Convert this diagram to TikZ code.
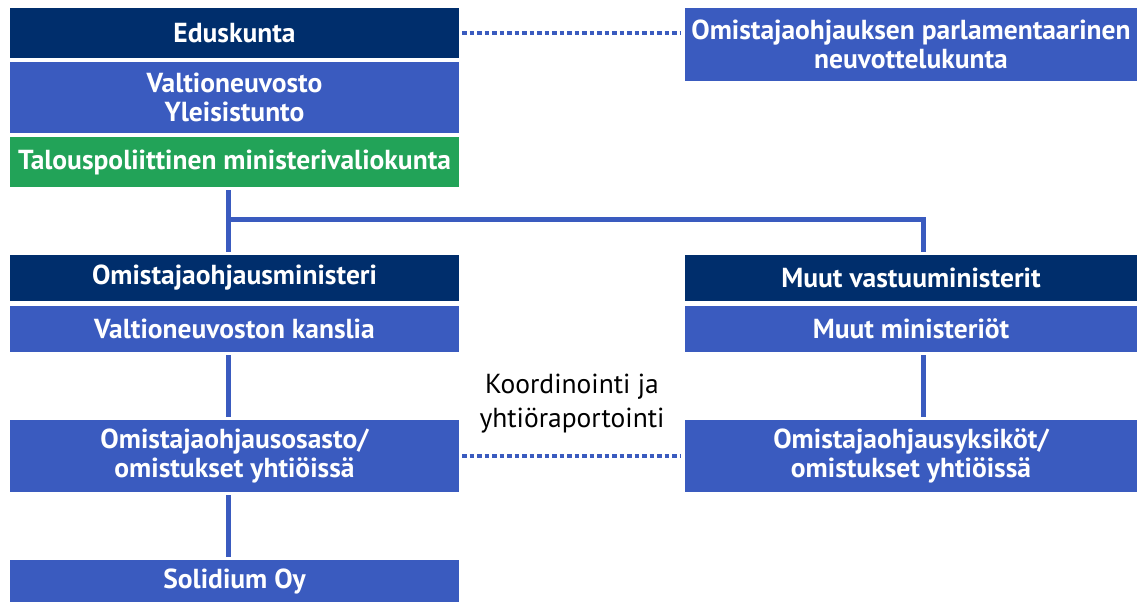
\documentclass[tikz,border=0pt]{standalone}
\usepackage{fontspec}
\setmainfont{PT Sans}
\usetikzlibrary{positioning}
\definecolor{navyblue}{RGB}{0,46,108}
\definecolor{midblue}{RGB}{58,91,191}
\definecolor{boxgreen}{RGB}{34,163,88}

\begin{document}
\begin{tikzpicture}[x=1pt, y=-1pt]
    \tikzstyle{box} = [rectangle, fill=midblue, text=white, font=\fontsize{27.5}{29}\selectfont\bfseries, align=center, minimum width=449pt, inner sep=0pt]
    \tikzstyle{headbox} = [box, fill=navyblue]
    \tikzstyle{greenbox} = [box, fill=boxgreen]
    \tikzstyle{link} = [midblue, line width=5pt, shorten <=3pt, shorten >=3pt]
    \tikzstyle{dotlink} = [midblue, line width=4.5pt, dash pattern=on 4.5pt off 3pt, shorten <=3pt, shorten >=5pt]

    \useasboundingbox (0,0) rectangle (1137,602);

    % left column
    \node (eduskunta) [headbox, minimum height=50pt] at (234.5,33) {Eduskunta};
    \node (valtioneuvosto) [box, minimum height=71pt] at (234.5,97.5) {Valtioneuvosto\\Yleisistunto};
    \node (talous) [greenbox, minimum height=50pt] at (234.5,162) {Talouspoliittinen ministerivaliokunta};
    \node (ministeri) [headbox, minimum height=46pt] at (234.5,278) {Omistajaohjausministeri};
    \node (kanslia) [box, minimum height=46pt] at (234.5,329) {Valtioneuvoston kanslia};
    \node (osasto) [box, minimum height=72pt] at (234.5,456) {Omistajaohjausosasto/\\omistukset yhtiöissä};
    \node (solidium) [box, minimum height=42pt] at (234.5,581) {Solidium Oy};

    % right column
    \node (neuvottelu) [box, minimum width=452pt, minimum height=73pt] at (911,44.5) {Omistajaohjauksen parlamentaarinen\\neuvottelukunta};
    \node (vastuu) [headbox, minimum width=452pt, minimum height=46pt] at (911,278) {Muut vastuuministerit};
    \node (ministeriot) [box, minimum width=452pt, minimum height=46pt] at (911,329) {Muut ministeriöt};
    \node (yksikot) [box, minimum width=452pt, minimum height=72pt] at (911,456) {Omistajaohjausyksiköt/\\omistukset yhtiöissä};

    \node (koord) [font=\fontsize{27.5}{34}\selectfont, align=center] at (572,404) {Koordinointi ja\\yhtiöraportointi};

    \coordinate (lx) at (228,0);
    \coordinate (rx) at (923.5,0);
    \coordinate (branch) at (228,219.5);

    % Lines
    \draw [link] (talous.south -| lx) -- (ministeri.north -| lx);
    \draw [link, shorten <=0pt] (branch) -| (vastuu.north -| rx);
    \draw [link] (kanslia.south -| lx) -- (osasto.north -| lx);
    \draw [link] (osasto.south -| lx) -- (solidium.north -| lx);
    \draw [link] (ministeriot.south -| rx) -- (yksikot.north -| rx);
    \draw [dotlink] (eduskunta.east) -- (eduskunta.east -| neuvottelu.west);
    \draw [dotlink] (osasto.east) -- (yksikot.west);
\end{tikzpicture}
\end{document}
